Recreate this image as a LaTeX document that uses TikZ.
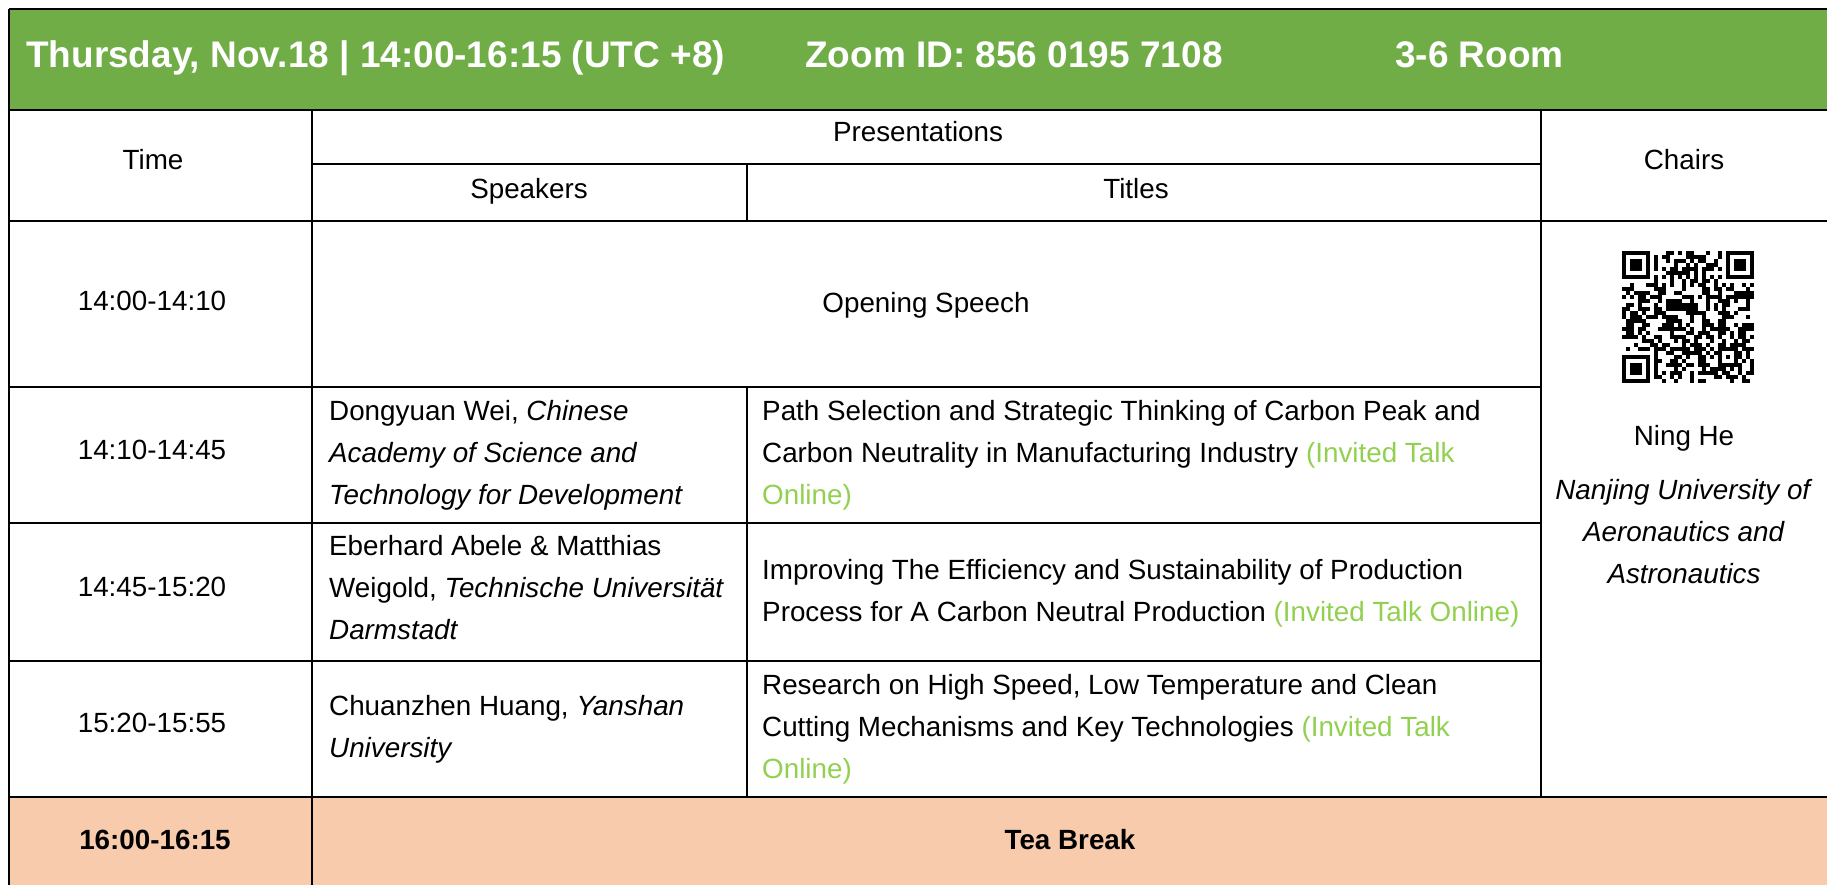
\documentclass[tikz,border=0pt]{standalone}
\usepackage{fontspec}
\setmainfont{Liberation Sans}
\definecolor{hdgreen}{RGB}{112,173,71}
\definecolor{peach}{RGB}{248,203,173}
\definecolor{invited}{RGB}{146,208,80}
\newcommand\bodyf{\fontsize{27.8}{42}\selectfont}
\newcommand\headf{\fontsize{37}{44}\selectfont\bfseries}
\newcommand\inv[1]{\textcolor{invited}{#1}}
\begin{document}
\begin{tikzpicture}[x=1pt,y=-1pt,
  grid/.style={line width=2pt, black},
  txt/.style={inner sep=0pt, font=\bodyf},
  ml/.style={txt, align=left, anchor=west},
  mc/.style={txt, align=center, anchor=center},
  hd/.style={inner sep=0pt, font=\headf, text=white, anchor=base west},
]
\useasboundingbox (0,0) rectangle (1827,885);
\clip (0,0) rectangle (1827,885);
% fills
\fill[hdgreen] (9,9) rectangle (1840,110);
\fill[peach] (9,797) rectangle (1840,890);
% grid
\draw[grid, line width=2.6pt] (9,9) -- (1840,9);
\draw[grid] (9,9) -- (9,890);
\draw[grid] (9,110) -- (1840,110);
\draw[grid] (312,164) -- (1541,164);
\draw[grid] (9,221) -- (1840,221);
\draw[grid] (9,387) -- (1541,387);
\draw[grid] (9,523) -- (1541,523);
\draw[grid] (9,661) -- (1541,661);
\draw[grid] (9,797) -- (1840,797);
\draw[grid] (312,110) -- (312,890);
\draw[grid] (747,164) -- (747,221);
\draw[grid] (747,387) -- (747,797);
\draw[grid] (1541,110) -- (1541,797);
% header
\node[hd] (h1) at (26,68) {Thursday, Nov.18 | 14:00-16:15 (UTC +8)};
\node[hd] (h2) at (805,68) {Zoom ID: 856 0195 7108};
\node[hd] (h3) at (1395,68) {3-6 Room};
% column heads
\node[txt, anchor=base] (ctime) at (153,170) {Time};
\node[txt, anchor=base] (cpres) at (918,142) {Presentations};
\node[txt, anchor=base] (cspk) at (529,199) {Speakers};
\node[txt, anchor=base] (ctit) at (1136,199) {Titles};
\node[txt, anchor=base] (cchair) at (1684,170) {Chairs};
% row 1
\node[txt, anchor=base] (t1) at (152,310) {14:00-14:10};
\node[txt, anchor=base] (open) at (926,312) {Opening Speech};
% row 2
\node[txt, anchor=base] (t2) at (152,459) {14:10-14:45};
\node[ml] (s2) at (329,455) {Dongyuan Wei, \textit{Chinese}\\\textit{Academy of Science and}\\\textit{Technology for Development}};
\node[ml] (p2) at (762,455) {Path Selection and Strategic Thinking of Carbon Peak and\\Carbon Neutrality in Manufacturing Industry \inv{(Invited Talk}\\\inv{Online)}};
% row 3
\node[txt, anchor=base] (t3) at (152,596) {14:45-15:20};
\node[ml] (s3) at (329,588) {Eberhard Abele \& Matthias\\Weigold, \textit{Technische Universität}\\\textit{Darmstadt}};
\node[ml] (p3) at (762,593) {Improving The Efficiency and Sustainability of Production\\Process for A Carbon Neutral Production \inv{(Invited Talk Online)}};
% row 4
\node[txt, anchor=base] (t4) at (152,732) {15:20-15:55};
\node[ml] (s4) at (329,729) {Chuanzhen Huang, \textit{Yanshan}\\\textit{University}};
\node[ml] (p4) at (762,729) {Research on High Speed, Low Temperature and Clean\\Cutting Mechanisms and Key Technologies \inv{(Invited Talk}\\\inv{Online)}};
% tea break
\node[txt, anchor=base, font=\bodyf\bfseries] (t5) at (155,849) {16:00-16:15};
\node[txt, anchor=base, font=\bodyf\bfseries] (tea) at (1070,849) {Tea Break};
% chair
\node[txt, anchor=base] (chair) at (1684,445) {Ning He};
\node[mc] (aff) at (1684,532) {\textit{Nanjing University of}\\\textit{Aeronautics and}\\\textit{Astronautics}};
% QR code (33 x 33 modules)
\def\qx{1622}\def\qy{251}\def\qm{4}
\pgfmathsetseed{4321}
\foreach \i in {0,...,32}{
  \foreach \j in {0,...,32}{
    \pgfmathrandominteger{\r}{0}{1}
    \pgfmathtruncatemacro{\inF}{((\i<8)&&(\j<8))||((\i>24)&&(\j<8))||((\i<8)&&(\j>24))||((\i>23)&&(\i<29)&&(\j>23)&&(\j<29))||(\i==6)||(\j==6)}
    \ifnum\inF=0 \ifnum\r=1
      \fill[black] (\qx+\i*\qm,\qy+\j*\qm) rectangle ++(\qm,\qm);
    \fi\fi
  }
}
\foreach \k in {8,10,...,24}{
  \fill[black] (\qx+\k*\qm,\qy+6*\qm) rectangle ++(\qm,\qm);
  \fill[black] (\qx+6*\qm,\qy+\k*\qm) rectangle ++(\qm,\qm);
}
\foreach \a/\b in {0/0,26/0,0/26}{
  \fill[black] (\qx+\a*\qm,\qy+\b*\qm) rectangle ++(7*\qm,7*\qm);
  \fill[white] (\qx+\a*\qm+\qm,\qy+\b*\qm+\qm) rectangle ++(5*\qm,5*\qm);
  \fill[black] (\qx+\a*\qm+2*\qm,\qy+\b*\qm+2*\qm) rectangle ++(3*\qm,3*\qm);
}
\fill[black] (\qx+24*\qm,\qy+24*\qm) rectangle ++(5*\qm,5*\qm);
\fill[white] (\qx+25*\qm,\qy+25*\qm) rectangle ++(3*\qm,3*\qm);
\fill[black] (\qx+26*\qm,\qy+26*\qm) rectangle ++(\qm,\qm);
\end{tikzpicture}
\end{document}
